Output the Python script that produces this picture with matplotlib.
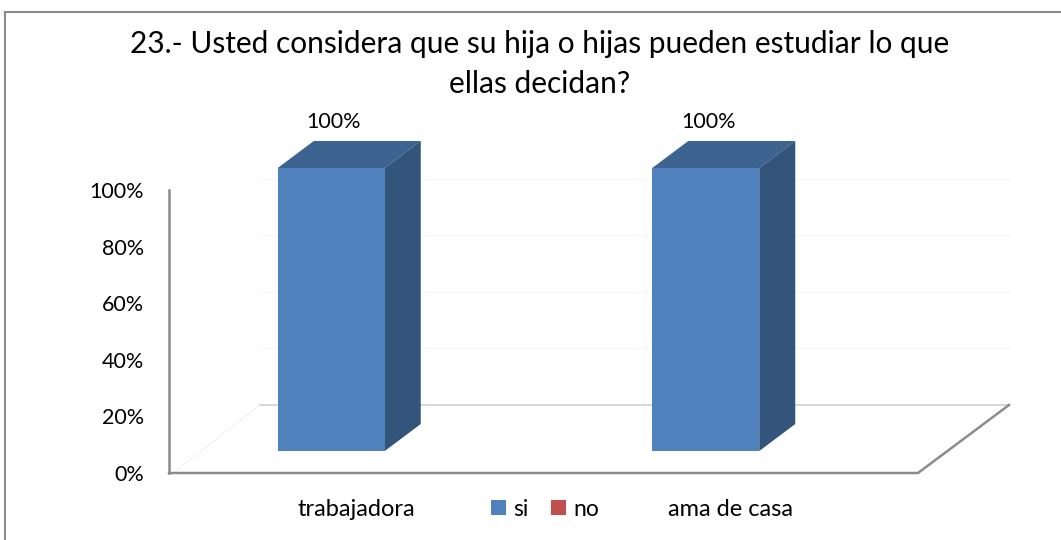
import numpy as np
import matplotlib
matplotlib.use("Agg")
import matplotlib.pyplot as plt
from matplotlib.patches import Polygon, Patch
from matplotlib.lines import Line2D

plt.rcParams['font.family'] = ['Lato', 'DejaVu Sans']

# datos
categorias = ['trabajadora', 'ama de casa']
si = [1.0, 1.0]
no = [0.0, 0.0]
series = ['si', 'no']
titulo = '23.- Usted considera que su hija o hijas pueden estudiar lo que\nellas decidan?'

W, H = 1061, 540
fig = plt.figure(figsize=(W / 100, H / 100), dpi=100)

# ejes en pixeles del lienzo
ax_l, ax_b, ax_w, ax_h = 169, 67, 749, 283
ax = fig.add_axes([ax_l / W, ax_b / H, ax_w / W, ax_h / H])
ax.set_xlim(-0.5, 1.5)
ax.set_ylim(0, 1)

px_x = ax_w / 2.0   # pixeles por unidad en x
px_y = ax_h / 1.0   # pixeles por unidad en y

c_front, c_top, c_side = '#4F81BD', '#3D6391', '#33547B'
c_no = '#C0504D'

# desplazamientos 3D (pixeles)
fdx, fdy = -25 / px_x, 22 / px_y     # cara frontal de las barras
bdx, bdy = 36 / px_x, 27 / px_y      # profundidad de las barras
ddx, ddy = 91 / px_x, 68 / px_y      # profundidad del piso

x = np.arange(len(categorias))
ancho = 107 / px_x

# piso y pared del fondo
fx0, fx1 = -0.5, 1.5
ax.add_patch(Polygon([[fx0, 0], [fx1, 0], [fx1 + ddx, ddy], [fx0 + ddx, ddy]],
                     closed=True, facecolor='white', edgecolor='none', clip_on=False, zorder=1))
for t in [0.2, 0.4, 0.6, 0.8]:
    ax.plot([fx0 + ddx, fx1 + ddx], [t + ddy, t + ddy], color='#f6f6f6', lw=1, clip_on=False, zorder=1)
ax.plot([fx0 + ddx, fx1 + ddx], [ddy, ddy], color='#cfcfcf', lw=1.2, clip_on=False, zorder=1)
ax.plot([fx0, fx1, fx1 + ddx], [0, 0, ddy], color='#8c8c8c', lw=1.8, clip_on=False, zorder=2)
ax.plot([fx0 + 0.02, fx0 + ddx], [0.01, ddy], color='#e6e6e6', lw=1, ls=':', clip_on=False, zorder=1)

# barras
barras = ax.bar(x + fdx, si, width=ancho, bottom=fdy, color=c_front, zorder=5, clip_on=False)
ax.bar(x + fdx, no, width=ancho, bottom=fdy, color=c_no, zorder=5, clip_on=False)
for b, v in zip(barras, si):
    x0 = b.get_x()
    x1 = x0 + b.get_width()
    y0 = b.get_y()
    y1 = y0 + b.get_height()
    ax.add_patch(Polygon([[x0, y1], [x1, y1], [x1 + bdx, y1 + bdy], [x0 + bdx, y1 + bdy]],
                         closed=True, facecolor=c_top, edgecolor='none', clip_on=False, zorder=4))
    ax.add_patch(Polygon([[x1, y0], [x1, y1], [x1 + bdx, y1 + bdy], [x1 + bdx, y0 + bdy]],
                         closed=True, facecolor=c_side, edgecolor='none', clip_on=False, zorder=4))
    ax.annotate('{:.0%}'.format(v), (x0 + b.get_width() / 2, y1), xytext=(2, 33),
                textcoords='offset points', ha='center', va='center', fontsize=15.5,
                color='black', annotation_clip=False)

# ejes
for s in ['top', 'right', 'bottom']:
    ax.spines[s].set_visible(False)
ax.spines['left'].set_color('#8c8c8c')
ax.spines['left'].set_linewidth(1.8)
ax.set_yticks([0, 0.2, 0.4, 0.6, 0.8, 1.0])
ax.set_yticklabels(['0%', '20%', '40%', '60%', '80%', '100%'], fontsize=15.5)
ax.set_xticks(x)
ax.set_xticklabels(categorias, fontsize=17)
ax.tick_params(axis='y', length=0, pad=18)
ax.tick_params(axis='x', length=0, pad=19)
ax.patch.set_visible(False)

# titulo
fig.text(540 / W, 1 - 64 / H, titulo, ha='center', va='center', fontsize=21.5,
         linespacing=1.5)

# leyenda
handles = [Patch(facecolor=c_front, edgecolor='none'), Patch(facecolor=c_no, edgecolor='none')]
fig.legend(handles, series, loc='center', bbox_to_anchor=(545 / W, 1 - 509 / H), ncol=2,
           frameon=False, fontsize=16.5, handlelength=0.65, handleheight=0.65,
           handletextpad=0.3, columnspacing=1.0)

# marco del grafico
fig.add_artist(Line2D([5 / W, 1060 / W], [1 - 12 / H, 1 - 12 / H], color='#8c8c8c', lw=1.5))
fig.add_artist(Line2D([5 / W, 5 / W], [0, 1 - 12 / H], color='#8c8c8c', lw=1.5))

fig.savefig('out.png', dpi=100)
